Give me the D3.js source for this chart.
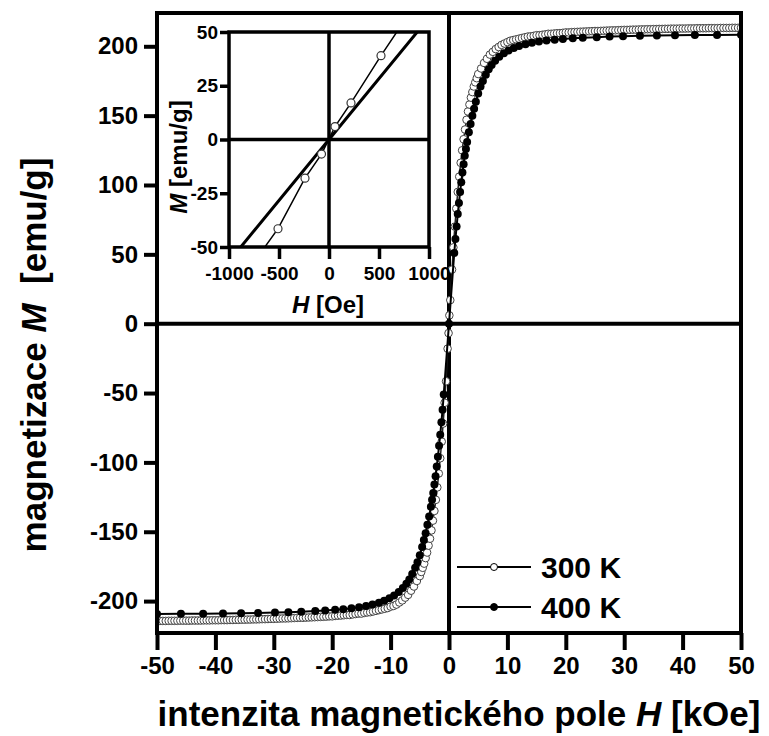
<!DOCTYPE html>
<html>
<head>
<meta charset="utf-8">
<script src="https://cdn.jsdelivr.net/npm/d3@7/dist/d3.min.js"></script>
<style>
  body { margin: 0; background: #fff; }
  svg { display: block; font-family: "Liberation Sans", Arial, sans-serif; font-weight: bold; }
</style>
</head>
<body>
<div id="chart"></div>
<script>
// magnetization curve, 300 K : [H (kOe), M (emu/g)]
var curve300 = [
  [-50,-214.3],[-49.5,-214.3],[-49,-214.3],[-48.5,-214.3],[-48,-214.2],[-47.5,-214.2],[-47,-214.2],[-46.5,-214.2],[-46,-214.1],[-45.5,-214.1],
  [-45,-214.1],[-44.5,-214.1],[-44,-214],[-43.5,-214],[-43,-214],[-42.5,-214],[-42,-213.9],[-41.5,-213.9],[-41,-213.9],[-40.5,-213.8],
  [-40,-213.8],[-39.5,-213.8],[-39,-213.7],[-38.5,-213.7],[-38,-213.7],[-37.5,-213.6],[-37,-213.6],[-36.5,-213.5],[-36,-213.5],[-35.5,-213.4],
  [-35,-213.4],[-34.5,-213.3],[-34,-213.3],[-33.5,-213.2],[-33,-213.2],[-32.5,-213.1],[-32,-213],[-31.5,-213],[-31,-212.9],[-30.5,-212.8],
  [-30,-212.8],[-29.5,-212.7],[-29,-212.6],[-28.5,-212.5],[-28,-212.5],[-27.5,-212.4],[-27,-212.3],[-26.5,-212.2],[-26,-212.1],[-25.5,-212],
  [-25,-212],[-24.5,-211.9],[-24,-211.8],[-23.5,-211.7],[-23,-211.6],[-22.5,-211.5],[-22,-211.4],[-21.5,-211.3],[-21,-211.2],[-20.5,-211],
  [-20,-211],[-19.5,-210.7],[-19,-210.5],[-18.5,-210.4],[-18,-210.2],[-17.5,-210],[-17,-210],[-16.5,-209.6],[-16,-209.3],[-15.5,-209],
  [-15,-209],[-14.5,-208.5],[-14,-208.2],[-13.5,-208],[-13,-207.5],[-12.5,-207],[-12,-206.5],[-11.5,-206],[-11,-205.5],[-10.5,-205],
  [-10,-204],[-9.5,-203.5],[-9,-202.5],[-8.5,-201],[-8,-199.5],[-7.5,-197.5],[-7,-195.5],[-6.5,-192.5],[-6,-189.5],[-5.5,-185.5],
  [-5,-182],[-4.75,-179],[-4.5,-176],[-4.25,-173],[-4,-169],[-3.75,-165],[-3.5,-160],[-3.25,-155],[-3,-149],[-2.75,-142],
  [-2.5,-135],[-2.25,-127],[-2,-118],[-1.75,-108],[-1.5,-97],[-1.25,-85],[-1,-72],[-0.75,-57],[-0.51,-41.5],[-0.24,-18],[-0.075,-6.8],
  [0.06,6],[0.22,17],[0.52,39],[0.75,55],[1,70],[1.25,83],[1.5,95],[1.75,106],[2,116],[2.25,125],
  [2.5,133],[2.75,140],[3,147],[3.25,153],[3.5,158],[3.75,163],[4,167],[4.25,171],[4.5,174],[4.75,177],
  [5,180],[5.5,184],[6,188],[6.5,191],[7,194],[7.5,196],[8,198],[8.5,199.5],[9,201],[9.5,202],
  [10,203],[10.5,204],[11,204.5],[11.5,205],[12,205.5],[12.5,206],[13,206.5],[13.5,207],[14,207.2],[14.5,207.5],
  [15,208],[15.5,208],[16,208.3],[16.5,208.6],[17,209],[17.5,209],[18,209.2],[18.5,209.4],[19,209.5],[19.5,209.7],
  [20,210],[20.5,210],[21,210.2],[21.5,210.3],[22,210.4],[22.5,210.5],[23,210.6],[23.5,210.7],[24,210.8],[24.5,210.9],
  [25,211],[25.5,211],[26,211.1],[26.5,211.2],[27,211.3],[27.5,211.4],[28,211.5],[28.5,211.5],[29,211.6],[29.5,211.7],
  [30,211.8],[30.5,211.8],[31,211.9],[31.5,212],[32,212],[32.5,212.1],[33,212.2],[33.5,212.2],[34,212.3],[34.5,212.3],
  [35,212.4],[35.5,212.4],[36,212.5],[36.5,212.5],[37,212.6],[37.5,212.6],[38,212.7],[38.5,212.7],[39,212.7],[39.5,212.8],
  [40,212.8],[40.5,212.8],[41,212.9],[41.5,212.9],[42,212.9],[42.5,213],[43,213],[43.5,213],[44,213],[44.5,213.1],
  [45,213.1],[45.5,213.1],[46,213.1],[46.5,213.2],[47,213.2],[47.5,213.2],[48,213.2],[48.5,213.3],[49,213.3],[49.5,213.3],[50,213.3]
];

// magnetization curve, 400 K : [H (kOe), M (emu/g)]
var curve400 = [
  [-50,-209.3],[-45.9,-209.2],[-42.1,-209.1],[-38.7,-209],[-35.6,-208.8],[-32.7,-208.6],[-29.8,-208.3],[-27.5,-208],[-25.3,-207.6],[-22.9,-207.2],
  [-21.2,-206.8],[-19.5,-206.3],[-18.1,-205.8],[-16.7,-205.2],[-15.4,-204.4],[-14.2,-203.5],[-13.1,-202.5],[-12,-201.2],[-11.1,-199.8],[-10.2,-198],
  [-9.4,-196],[-8.6,-193.5],[-7.9,-190.5],[-7.3,-187.5],[-6.8,-184.5],[-6.3,-180.5],[-5.8,-176],[-5.4,-172],[-5,-167],[-4.6,-161],
  [-4.3,-156],[-4,-151],[-3.7,-145],[-3.4,-139],[-3.1,-132],[-2.9,-127],[-2.7,-122],[-2.5,-116],[-2.3,-110],[-2.1,-103],
  [-1.9,-96],[-1.7,-88],[-1.5,-80],[-1.3,-71],[-1.1,-62],[-0.9,-51],[0,0],
  [0.9,51],[1.1,61],[1.3,70],[1.5,79],[1.7,87],[1.9,95],[2.1,102],[2.3,109],[2.5,115],[2.7,121],
  [2.9,126],[3.1,131],[3.4,138],[3.7,144],[4,150],[4.3,155],[4.6,160],[5,166],[5.4,171],[5.8,175],
  [6.3,179.5],[6.8,183.5],[7.3,186.5],[7.9,189.5],[8.6,192.5],[9.4,195],[10.2,197],[11.1,198.8],[12,200.2],[13.1,201.5],
  [14.2,202.5],[15.4,203.4],[16.7,204.2],[18.1,204.8],[19.5,205.3],[21.2,205.8],[22.9,206.2],[25.3,206.6],[27.5,207],[29.8,207.3],
  [32.7,207.6],[35.6,207.8],[38.7,208],[42.1,208.1],[45.9,208.2],[50,208.3]
];

var mainXTicks = [-50, -40, -30, -20, -10, 0, 10, 20, 30, 40, 50];
var mainYTicks = [-200, -150, -100, -50, 0, 50, 100, 150, 200];
var insetXTicks = [-1000, -500, 0, 500, 1000];
var insetYTicks = [-50, -25, 0, 25, 50];
var legendNames = ["300 K", "400 K"];

var width = 769, height = 736;
var plain = function(d) { return String(d); };  // hyphen minus, like the original

var svg = d3.select("#chart").append("svg")
    .attr("width", width)
    .attr("height", height);

// Scales
var x = d3.scaleLinear().domain([-50, 50]).range([157, 741]);
var y = d3.scaleLinear().domain([-223, 224]).range([633, 13]);

var ix = d3.scaleLinear().domain([-1000, 1000]).range([229, 429]);
var iy = d3.scaleLinear().domain([-50, 50]).range([247, 32]);

var defs = svg.append("defs");
defs.append("clipPath").attr("id", "mainClip").append("rect")
    .attr("x", x(-50)).attr("y", y(224))
    .attr("width", x(50) - x(-50)).attr("height", y(-223) - y(224));
defs.append("clipPath").attr("id", "insetClip").append("rect")
    .attr("x", ix(-1000)).attr("y", iy(50))
    .attr("width", ix(1000) - ix(-1000)).attr("height", iy(-50) - iy(50));

// Zero lines
svg.append("line")
    .attr("x1", x(-50)).attr("x2", x(50))
    .attr("y1", y(0)).attr("y2", y(0))
    .style("stroke", "#000").style("stroke-width", 4);
svg.append("line")
    .attr("x1", x(0)).attr("x2", x(0))
    .attr("y1", y(224)).attr("y2", y(-223))
    .style("stroke", "#000").style("stroke-width", 4);

// Curves
var line = d3.line()
    .x(function(d) { return x(d[0]); })
    .y(function(d) { return y(d[1]); });

var curves = svg.append("g").attr("clip-path", "url(#mainClip)");

curves.append("path")
    .datum(curve300)
    .attr("d", line)
    .style("fill", "none")
    .style("stroke", "#222")
    .style("stroke-width", 1.5);

curves.append("g").selectAll("circle")
    .data(curve300)
  .enter().append("circle")
    .attr("cx", function(d) { return x(d[0]); })
    .attr("cy", function(d) { return y(d[1]); })
    .attr("r", 3.8)
    .style("fill", "#fff")
    .style("stroke", "#444")
    .style("stroke-width", 1);

curves.append("path")
    .datum(curve400)
    .attr("d", line)
    .style("fill", "none")
    .style("stroke", "#000")
    .style("stroke-width", 2);

curves.append("g").selectAll("circle")
    .data(curve400)
  .enter().append("circle")
    .attr("cx", function(d) { return x(d[0]); })
    .attr("cy", function(d) { return y(d[1]); })
    .attr("r", 4)
    .style("fill", "#000");

// Frame
svg.append("rect")
    .attr("x", x(-50)).attr("y", y(224))
    .attr("width", x(50) - x(-50)).attr("height", y(-223) - y(224))
    .style("fill", "none")
    .style("stroke", "#000")
    .style("stroke-width", 4);

// Axes
var xAxis = svg.append("g")
    .attr("transform", "translate(0," + y(-223) + ")")
    .call(d3.axisBottom(x).tickValues(mainXTicks).tickSize(17).tickPadding(7)
      .tickFormat(plain));
var yAxis = svg.append("g")
    .attr("transform", "translate(" + x(-50) + ",0)")
    .call(d3.axisLeft(y).tickValues(mainYTicks).tickSize(13).tickPadding(6)
      .tickFormat(plain));

[xAxis, yAxis].forEach(function(a) {
  a.select(".domain").remove();
  a.selectAll(".tick line").style("stroke", "#000").style("stroke-width", 4);
  a.selectAll(".tick text")
      .style("font-family", "'Liberation Sans', Arial, sans-serif")
      .style("font-weight", "bold")
      .style("font-size", "24px")
      .style("fill", "#000");
});

// Axis titles
svg.append("text")
    .attr("x", 459).attr("y", 726)
    .attr("text-anchor", "middle")
    .style("font-size", "35px")
    .call(function(t) {
      t.append("tspan").text("intenzita magnetického pole ");
      t.append("tspan").style("font-style", "italic").text("H");
      t.append("tspan").text(" [kOe]");
    });

svg.append("text")
    .attr("transform", "translate(46,355) rotate(-90)")
    .attr("text-anchor", "middle")
    .style("font-size", "35px")
    .style("white-space", "pre")
    .call(function(t) {
      t.append("tspan").text("magnetizace ");
      t.append("tspan").style("font-style", "italic").text("M");
      t.append("tspan").text("  [emu/g]");
    });

// Legend
var legend = svg.append("g");
legendNames.forEach(function(name, i) {
  var ly = 567 + i * 40;
  legend.append("line")
      .attr("x1", 457).attr("x2", 531)
      .attr("y1", ly).attr("y2", ly)
      .style("stroke", "#000").style("stroke-width", 2);
  legend.append("circle")
      .attr("cx", 494).attr("cy", ly).attr("r", 3.5)
      .style("fill", i === 0 ? "#fff" : "#000")
      .style("stroke", "#000").style("stroke-width", 1);
  legend.append("text")
      .attr("x", 541).attr("y", ly + 11)
      .style("font-size", "30px")
      .text(name);
});

// Inset
var inset = svg.append("g");

inset.append("rect")
    .attr("x", ix(-1000)).attr("y", iy(50))
    .attr("width", ix(1000) - ix(-1000)).attr("height", iy(-50) - iy(50))
    .style("fill", "#fff");

inset.append("line")
    .attr("x1", ix(-1000)).attr("x2", ix(1000))
    .attr("y1", iy(0)).attr("y2", iy(0))
    .style("stroke", "#000").style("stroke-width", 3.5);
inset.append("line")
    .attr("x1", ix(0)).attr("x2", ix(0))
    .attr("y1", iy(50)).attr("y2", iy(-50))
    .style("stroke", "#000").style("stroke-width", 3.5);

var insetLine = d3.line()
    .x(function(d) { return ix(d[0] * 1000); })
    .y(function(d) { return iy(d[1]); });

var insetCurves = inset.append("g").attr("clip-path", "url(#insetClip)");

insetCurves.append("path")
    .datum(curve400)
    .attr("d", insetLine)
    .style("fill", "none")
    .style("stroke", "#000")
    .style("stroke-width", 3);

insetCurves.append("path")
    .datum(curve300)
    .attr("d", insetLine)
    .style("fill", "none")
    .style("stroke", "#000")
    .style("stroke-width", 1.5);

insetCurves.append("g").selectAll("circle")
    .data(curve300)
  .enter().append("circle")
    .attr("cx", function(d) { return ix(d[0] * 1000); })
    .attr("cy", function(d) { return iy(d[1]); })
    .attr("r", 4)
    .style("fill", "#fff")
    .style("stroke", "#333")
    .style("stroke-width", 1.2);

inset.append("rect")
    .attr("x", ix(-1000)).attr("y", iy(50))
    .attr("width", ix(1000) - ix(-1000)).attr("height", iy(-50) - iy(50))
    .style("fill", "none")
    .style("stroke", "#000")
    .style("stroke-width", 3.5);

var ixAxis = inset.append("g")
    .attr("transform", "translate(0," + iy(-50) + ")")
    .call(d3.axisBottom(ix).tickValues(insetXTicks).tickSize(12).tickPadding(8)
      .tickFormat(plain));
var iyAxis = inset.append("g")
    .attr("transform", "translate(" + ix(-1000) + ",0)")
    .call(d3.axisLeft(iy).tickValues(insetYTicks).tickSize(9).tickPadding(2)
      .tickFormat(plain));

[ixAxis, iyAxis].forEach(function(a) {
  a.select(".domain").remove();
  a.selectAll(".tick line").style("stroke", "#000").style("stroke-width", 3.5);
  a.selectAll(".tick text")
      .style("font-family", "'Liberation Sans', Arial, sans-serif")
      .style("font-weight", "bold")
      .style("font-size", "19px")
      .style("fill", "#000");
});

inset.append("text")
    .attr("x", 328).attr("y", 313)
    .attr("text-anchor", "middle")
    .style("font-size", "24px")
    .call(function(t) {
      t.append("tspan").style("font-style", "italic").text("H");
      t.append("tspan").text(" [Oe]");
    });

inset.append("text")
    .attr("transform", "translate(187,157) rotate(-90)")
    .attr("text-anchor", "middle")
    .style("font-size", "24px")
    .call(function(t) {
      t.append("tspan").style("font-style", "italic").text("M");
      t.append("tspan").text(" [emu/g]");
    });
</script>
</body>
</html>
